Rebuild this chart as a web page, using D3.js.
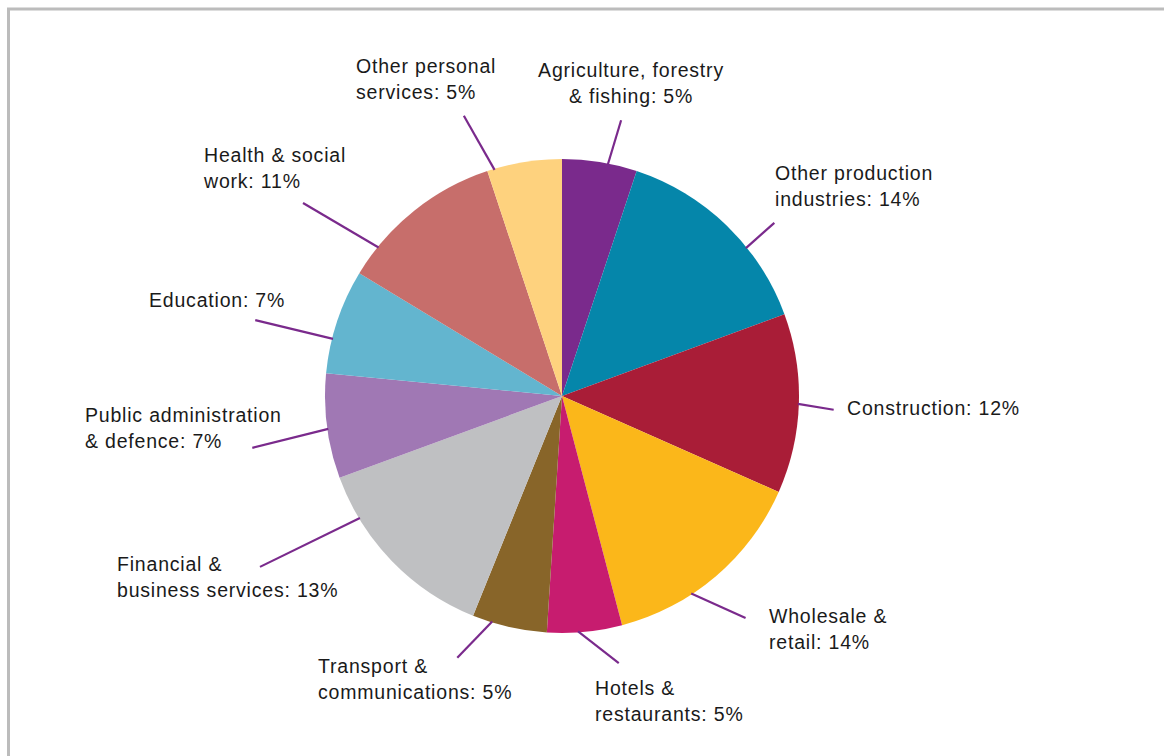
<!DOCTYPE html>
<html>
<head>
<meta charset="utf-8">
<script src="https://cdn.jsdelivr.net/npm/d3@7"></script>
<style>
  html, body { margin: 0; padding: 0; background: #fff; }
  svg { display: block; }
  .lbl { font-family: "Liberation Sans", Arial, Helvetica, sans-serif; font-size: 19.5px; letter-spacing: 0.8px; fill: #1a1a1a; }
</style>
</head>
<body>
<svg id="chart" width="1164" height="756"></svg>
<script>
// Sector shares of employment (%), clockwise from 12 o'clock
const sectors = [
  "Agriculture, forestry & fishing",
  "Other production industries",
  "Construction",
  "Wholesale & retail",
  "Hotels & restaurants",
  "Transport & communications",
  "Financial & business services",
  "Public administration & defence",
  "Education",
  "Health & social work",
  "Other personal services"
];
const shares = [5, 14, 12, 14, 5, 5, 13, 7, 7, 11, 5];

// Label text, split into lines
const labelLines = [
  ["Agriculture, forestry", "& fishing: 5%"],
  ["Other production", "industries: 14%"],
  ["Construction: 12%"],
  ["Wholesale &", "retail: 14%"],
  ["Hotels &", "restaurants: 5%"],
  ["Transport &", "communications: 5%"],
  ["Financial &", "business services: 13%"],
  ["Public administration", "& defence: 7%"],
  ["Education: 7%"],
  ["Health & social", "work: 11%"],
  ["Other personal", "services: 5%"]
];

const sliceColors = [
  "#7a2a8c", "#0586aa", "#a91d37", "#fbb71a", "#c71c6f", "#886529",
  "#bfc0c2", "#a078b4", "#63b5cf", "#c76e6b", "#fed27e"
];

// Layout of callouts: leader angle at the rim and at its outer end (degrees,
// clockwise from top), outer radius of the leader, and text anchor offset
// from the pie centre.
const leaderInnerDeg = [11.2, 51.2, 91.9, 146.8, 176.1, 197.2, 238.9, 262.0, 284.0, 309.0, 343.4];
const leaderOuterDeg = [12.1, 50.8, 92.9, 140.4, 168.0, 201.8, 240.5, 260.5, 283.9, 306.7, 340.7];
const leaderOuterR   = [282, 274, 272, 288, 273, 282, 347, 314, 316, 323, 297];
const labelDx = [69, 213, 285, 207, 33, -244, -445, -477, -413, -358, -206];
const labelDy = [-319, -216, 19, 227, 299, 277, 175, 26, -89, -234, -323];
const labelAnchor = ["middle", "start", "start", "start", "start", "start", "start", "start", "start", "start", "start"];

const W = 1164, H = 756;
const cx = 562, cy = 396, radius = 237;
const lineHeight = 26;

const svg = d3.select("#chart");

// Panel frame (continues past the right and bottom edges)
svg.append("rect")
  .attr("x", 8.5).attr("y", 9)
  .attr("width", W + 40).attr("height", H + 40)
  .attr("fill", "#fff")
  .attr("stroke", "#bcbcbc")
  .attr("stroke-width", 3);

const g = svg.append("g").attr("transform", `translate(${cx},${cy})`);

const pie = d3.pie().value(d => d).sort(null);
const arcs = pie(shares);
const arc = d3.arc().innerRadius(0).outerRadius(radius);

const color = d3.scaleOrdinal().domain(sectors).range(sliceColors);

g.selectAll("path.slice")
  .data(arcs)
  .join("path")
  .attr("class", "slice")
  .attr("d", arc)
  .attr("fill", (d, i) => color(sectors[i]));

// Leader lines
const rad = deg => deg * Math.PI / 180;
const polar = (deg, r) => [Math.sin(rad(deg)) * r, -Math.cos(rad(deg)) * r];

g.selectAll("line.leader")
  .data(arcs)
  .join("line")
  .attr("class", "leader")
  .each(function (d, i) {
    const a = polar(leaderInnerDeg[i], radius - 1);
    const b = polar(leaderOuterDeg[i], leaderOuterR[i]);
    d3.select(this)
      .attr("x1", a[0]).attr("y1", a[1])
      .attr("x2", b[0]).attr("y2", b[1]);
  })
  .attr("stroke", "#7a2a8c")
  .attr("stroke-width", 2.2)
  .attr("stroke-linecap", "butt");

// Labels
const labels = g.selectAll("text.lbl")
  .data(arcs)
  .join("text")
  .attr("class", "lbl")
  .attr("text-anchor", (d, i) => labelAnchor[i])
  .attr("x", (d, i) => labelDx[i])
  .attr("y", (d, i) => labelDy[i]);

labels.each(function (d, i) {
  const t = d3.select(this);
  labelLines[i].forEach((line, k) => {
    t.append("tspan")
      .attr("x", labelDx[i])
      .attr("y", labelDy[i] + k * lineHeight)
      .text(line);
  });
});
</script>
</body>
</html>
